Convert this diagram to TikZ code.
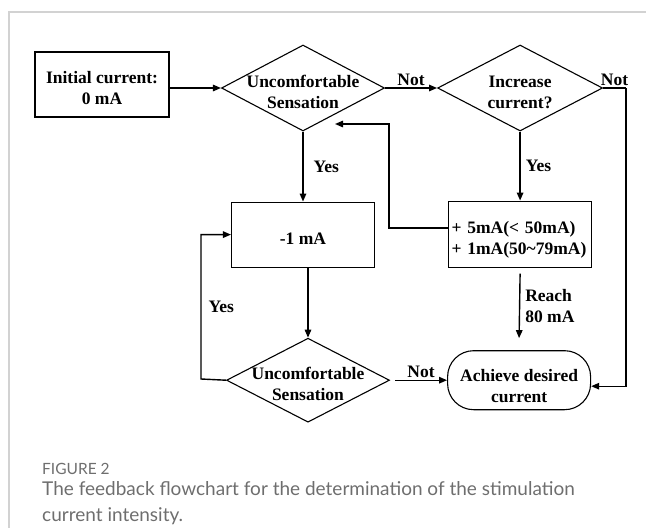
\documentclass[tikz,border=0pt]{standalone}
\usepackage{fontspec}
\setmainfont{Liberation Serif}
\newfontfamily\capfont{Lato}
\usepackage{tikz}
\usetikzlibrary{arrows.meta,positioning,shapes.geometric}

\definecolor{framegray}{HTML}{D2D2D2}
\definecolor{capgray}{HTML}{6E6E6E}
% zero-width line, so the text may run over the diamond's edges
\newcommand{\zw}[1]{\makebox[0pt]{#1}}

\begin{document}
\begin{tikzpicture}[x=1pt, y=-1pt,
  block/.style={draw, line width=1.1pt, minimum width=143pt,
                minimum height=65pt, align=center, text height=20pt,
                font=\bfseries\fontsize{17.5}{21}\selectfont},
  twoline/.style={text height=41pt},
  decision/.style={draw, diamond, line width=1.1pt, inner sep=0pt,
                   minimum width=163pt, minimum height=86pt, align=center,
                   text height=41pt,
                   font=\bfseries\fontsize{17.5}{21}\selectfont},
  terminal/.style={block, rounded corners=26pt, minimum height=59pt,
                   text height=45pt},
  lbl/.style={font=\bfseries\fontsize{17.5}{21}\selectfont, inner sep=2pt},
  flow/.style={->, line width=1.4pt},
  >={Triangle[length=8pt,width=6.5pt]},
]
  \useasboundingbox (0,0) rectangle (646,528);
  \draw[framegray, line width=1.5pt] (9,528) -- (9,12) -- (646,12);

  \node[block, twoline, minimum width=134pt] (init) at (102,84.5)
    {Initial current:\\0 mA};
  \node[decision] (sens) at (303,88)
    {\zw{Uncomfortable}\\\zw{Sensation}};
  \node[decision, minimum width=165pt, right=52pt of sens] (incr)
    {\zw{Increase}\\\zw{current?}};
  \node[block, below=70pt of sens] (minus)
    {-1 mA};
  \node[block, below=69pt of incr, minimum height=66pt, text width=137pt,
        inner xsep=3pt, align=left, text height=23pt] (step)
    {+ 5mA(< 50mA)\\+ 1mA(50\textasciitilde79mA)};
  \node[decision, minimum height=84pt, below=70pt of minus, xshift=5pt] (sens2)
    {\zw{Uncomfortable}\\\zw{Sensation}};
  \node[terminal, right=57pt of sens2] (goal)
    {Achieve desired\\current};

  \coordinate (rturn) at (626,88);
  \coordinate (bturn) at (389,124);
  \coordinate (btip) at (335,124);
  \coordinate (lturn) at (201,379);

  \draw[flow] (init.east |- sens.west) -- (sens.west);
  \draw[flow] (sens.east) -- node[lbl, above] {Not} (incr.west);
  \draw[line width=1.4pt] (incr.east) -- node[lbl, above] {Not} (rturn);
  \draw[flow] (rturn) |- ([yshift=-6pt]goal.east);
  \draw[flow] (incr.south) -- node[lbl, right, xshift=3pt] {Yes} (step.north);
  \draw[flow] ([yshift=6pt]step.west) -| (bturn) -- (btip);
  \draw[flow] (sens.south) -- node[lbl, right, xshift=8pt] {Yes} (minus.north);
  \draw[flow] (sens2.north |- minus.south) -- (sens2.north);
  \draw[flow] (sens2.west) -- (lturn) |- node[lbl, right, pos=0.25, xshift=5pt] {Yes} (minus.west);
  \draw[flow] ([xshift=5pt]sens2.east) -- node[lbl, above] {Not} (sens2.east -| goal.west);
  \draw[flow] ([yshift=-6pt]step.south) -- node[lbl, right, align=left, xshift=3pt] {Reach\\80 mA} ([yshift=12pt]goal.north);

  \node[anchor=base west, inner sep=0pt, text=capgray,
        font=\capfont\fontsize{15.5}{17}\selectfont] (fig) at (42,474) {FIGURE 2};
  \node[anchor=north west, inner sep=0pt, align=left, text=capgray,
        font=\capfont\fontsize{19}{26}\selectfont] (cap) at (42,481)
    {The feedback flowchart for the determination of the stimulation\\current intensity.};
\end{tikzpicture}
\end{document}
